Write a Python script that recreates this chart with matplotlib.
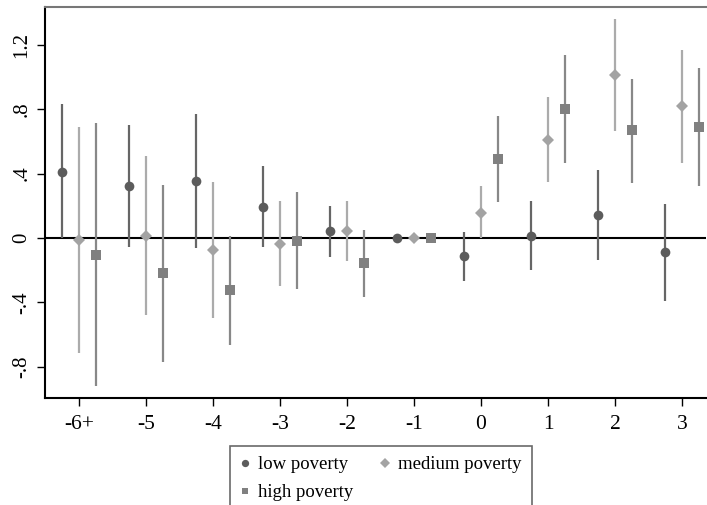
import numpy as np
import matplotlib
matplotlib.use('Agg')
import matplotlib.pyplot as plt

plt.rcParams['font.family'] = ['Liberation Serif', 'DejaVu Serif']

periods = [-6, -5, -4, -3, -2, -1, 0, 1, 2, 3]
tick_labels = ['-6+', '-5', '-4', '-3', '-2', '-1', '0', '1', '2', '3']

low_est = [0.41, 0.32, 0.356, 0.194, 0.041, 0.0, -0.114, 0.014, 0.143, -0.089]
low_hi = [0.83, 0.70, 0.77, 0.45, 0.20, 0.0, 0.035, 0.227, 0.424, 0.211]
low_lo = [0.0, -0.056, -0.06, -0.056, -0.12, 0.0, -0.265, -0.20, -0.139, -0.39]

med_est = [-0.015, 0.01, -0.075, -0.037, 0.045, 0.0, 0.157, 0.61, 1.01, 0.82]
med_hi = [0.69, 0.507, 0.35, 0.23, 0.232, 0.0, 0.32, 0.873, 1.36, 1.17]
med_lo = [-0.714, -0.478, -0.50, -0.296, -0.141, 0.0, 0.0, 0.345, 0.662, 0.468]

high_est = [-0.104, -0.22, -0.325, -0.017, -0.155, 0.0, 0.488, 0.80, 0.668, 0.69]
high_hi = [0.716, 0.331, 0.012, 0.288, 0.052, 0.0, 0.755, 1.134, 0.99, 1.057]
high_lo = [-0.92, -0.77, -0.663, -0.32, -0.366, 0.0, 0.224, 0.463, 0.343, 0.32]

fig = plt.figure(figsize=(7.07, 5.05), dpi=100)
ax = fig.add_axes([0.064, 0.212, 0.935, 0.774])

x = np.array(periods, dtype=float)
series = [
    ('low poverty', -0.25, low_est, low_lo, low_hi, 'o', '#5c5c5c', '#666666', 7),
    ('medium poverty', 0.0, med_est, med_lo, med_hi, 'D', '#a3a3a3', '#ababab', 6.5),
    ('high poverty', 0.25, high_est, high_lo, high_hi, 's', '#808080', '#888888', 6.5),
]

ax.axhline(0, color='black', lw=1.5, zorder=1)

handles = {}
for name, off, est, lo, hi, mk, mcol, lcol, ms in series:
    xs = x + off
    ax.vlines(xs, lo, hi, color=lcol, lw=1.6, zorder=2)
    h, = ax.plot(xs, est, linestyle='none', marker=mk, color=mcol,
                 markersize=ms, markeredgewidth=0, zorder=3, label=name)
    handles[name] = h

ax.set_xlim(-6.5, 3.36)
ax.set_ylim(-0.995, 1.435)
ax.set_xticks(periods)
ax.set_xticklabels(tick_labels, fontsize=15.5)
ax.set_yticks([-0.8, -0.4, 0, 0.4, 0.8, 1.2])
ax.set_yticklabels(['-.8', '-.4', '0', '.4', '.8', '1.2'], fontsize=15,
                   rotation=90, va='center')
ax.tick_params(axis='both', direction='out', length=6, width=1, color='black')
ax.tick_params(axis='x', pad=6)
ax.tick_params(axis='y', pad=4)

for s in ['left', 'bottom']:
    ax.spines[s].set_color('black')
    ax.spines[s].set_linewidth(1.5)
ax.spines['top'].set_color('#777777')
ax.spines['top'].set_linewidth(1.5)
ax.spines['right'].set_visible(False)

# column-major fill: low / high in first column, medium in second
order = ['low poverty', 'high poverty', 'medium poverty']
leg = fig.legend(handles=[handles[k] for k in order], loc='upper left',
                 bbox_to_anchor=(0.325, 0.117), borderaxespad=0,
                 ncol=2, fontsize=13.5, frameon=True, fancybox=False,
                 handlelength=0.5, handletextpad=0.45, columnspacing=1.45,
                 borderpad=0.55, labelspacing=0.57, markerscale=0.75)
leg.get_frame().set_edgecolor('#444444')
leg.get_frame().set_linewidth(1.2)

fig.savefig('out.png', dpi=100)
